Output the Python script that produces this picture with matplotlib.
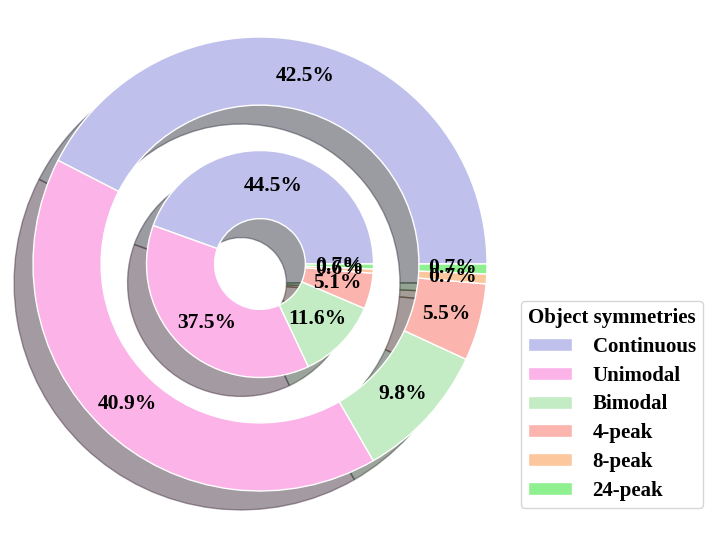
import matplotlib
matplotlib.use("Agg")
from matplotlib import pyplot as plt

plt.rcParams['font.family'] = ['Liberation Serif', 'DejaVu Serif']
plt.rcParams['font.weight'] = 'bold'

categories = ["Continuous", "Unimodal", "Bimodal", "4-peak", "8-peak", "24-peak"]
outer_vals = [42.5, 40.9, 9.8, 5.5, 0.7, 0.7]
inner_vals = [44.5, 37.5, 11.6, 5.1, 0.6, 0.7]
colors = ["#bfc1ec", "#fbb3e8", "#c3ecc4", "#fbb5ae", "#fcc79c", "#8ff08f"]

fig = plt.figure(figsize=(7.2, 5.4), dpi=100)
ax = fig.add_axes([0, 0, 1, 1])

shadow = {'ox': -0.06, 'oy': -0.06}
wedge_kw = dict(width=0.3, edgecolor='white', linewidth=1)
text_kw = dict(fontsize=15.5, fontweight='bold', color='black')

outer, _, _ = ax.pie(outer_vals, radius=1.0, colors=colors, startangle=0,
                     autopct='%1.1f%%', pctdistance=0.85, shadow=shadow,
                     wedgeprops=wedge_kw, textprops=text_kw)
ax.pie(inner_vals, radius=0.5, colors=colors, startangle=0,
       autopct='%1.1f%%', pctdistance=0.70, shadow=shadow,
       wedgeprops=wedge_kw, textprops=text_kw)

# place the pie: center at (260, 264) px, 227 px per unit
ax.set_xlim(-260 / 227, (720 - 260) / 227)
ax.set_ylim(-(540 - 264) / 227, 264 / 227)
ax.set_aspect('auto')
ax.axis('off')

leg = fig.legend(outer, categories, title="Object symmetries",
                 loc='lower right', bbox_to_anchor=(703 / 720, 32 / 540),
                 borderaxespad=0, handlelength=2.1, handleheight=0.6,
                 handletextpad=1.0, labelspacing=0.42, borderpad=0.35,
                 prop={'size': 15, 'weight': 'bold'},
                 title_fontproperties={'size': 15, 'weight': 'bold'})

fig.savefig("out.png", dpi=100)
